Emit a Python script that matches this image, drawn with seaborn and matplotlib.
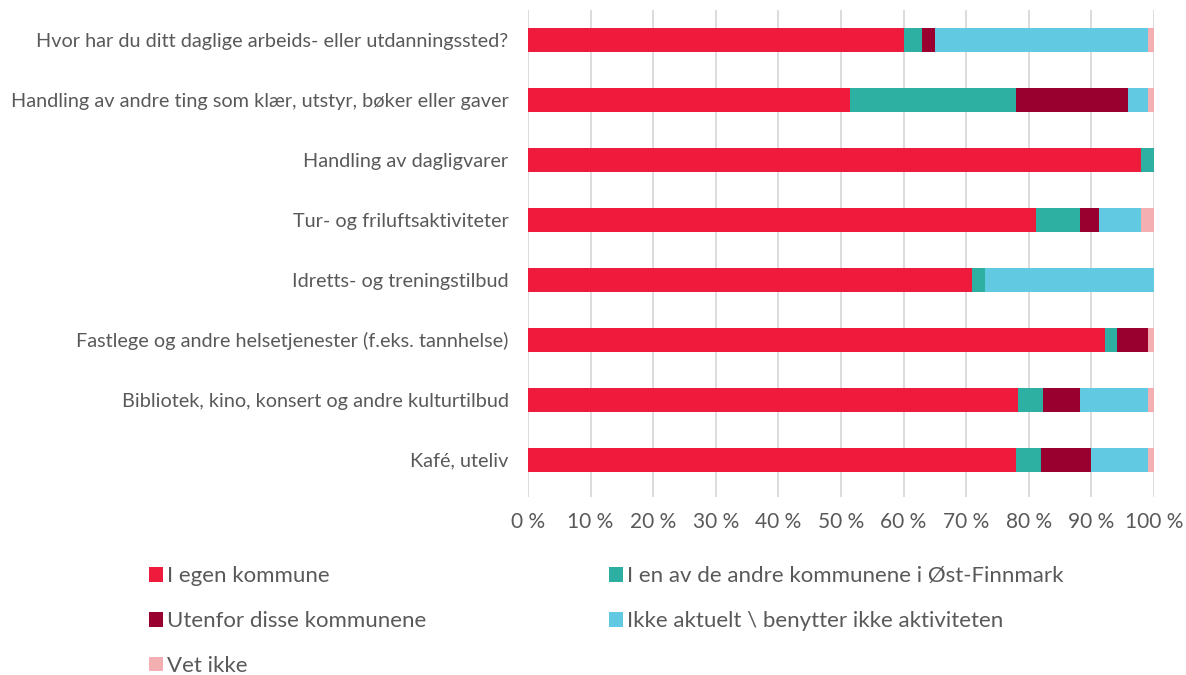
import matplotlib
matplotlib.use("Agg")
import matplotlib.pyplot as plt
import seaborn as sns
import numpy as np
import pandas as pd
from matplotlib.patches import Patch

categories = [
    "Hvor har du ditt daglige arbeids- eller utdanningssted?",
    "Handling av andre ting som klær, utstyr, bøker eller gaver",
    "Handling av dagligvarer",
    "Tur- og friluftsaktiviteter",
    "Idretts- og treningstilbud",
    "Fastlege og andre helsetjenester (f.eks. tannhelse)",
    "Bibliotek, kino, konsert og andre kulturtilbud",
    "Kafé, uteliv",
]
series_names = [
    "I egen kommune",
    "I en av de andre kommunene i Øst-Finnmark",
    "Utenfor disse kommunene",
    "Ikke aktuelt \\ benytter ikke aktiviteten",
    "Vet ikke",
]
egen = [60, 51.4, 98, 81.2, 71, 92.1, 78.3, 78]
annen = [3, 26.5, 2, 7, 2, 2, 4, 4]
utenfor = [2, 18, 0, 3, 0, 5, 5.9, 8]
ikke_aktuelt = [34, 3.1, 0, 6.8, 27, 0, 10.9, 9.1]
vet_ikke = [1, 1, 0, 2, 0, 0.9, 0.9, 0.9]
x_ticks = list(range(0, 101, 10))
x_ticklabels = [f"{v} %" for v in x_ticks]

colors = ["#EE1B3D", "#2DAFA2", "#990030", "#62C9E2", "#F4AFB2"]
text_color = "#595959"

sns.set_theme(style="white")
plt.rcParams["font.family"] = ["Lato", "DejaVu Sans"]

fig = plt.figure(figsize=(11.86, 6.75), dpi=100)
ax = fig.add_axes([528 / 1186, 1 - 497 / 675, (1154 - 528) / 1186, (497 - 10) / 675])

vals = np.array([egen, annen, utenfor, ikke_aktuelt, vet_ikke], dtype=float)
cum = np.cumsum(vals, axis=0)
for i in range(len(series_names) - 1, -1, -1):
    df = pd.DataFrame({"cat": categories, "val": cum[i]})
    sns.barplot(data=df, x="val", y="cat", orient="h", color=colors[i],
                width=0.4, ax=ax, saturation=1, linewidth=0, zorder=3)

ax.set_xlim(0, 100)
ax.set_ylim(7.62, -0.5)
ax.set_xticks(x_ticks)
ax.set_xticklabels(x_ticklabels)
ax.grid(axis="x", color="#D9D9D9", linewidth=1.3, zorder=0)
ax.grid(axis="y", visible=False)
ax.set_axisbelow(True)
for s in ax.spines.values():
    s.set_visible(False)
ax.set_xlabel("")
ax.set_ylabel("")
ax.tick_params(axis="x", length=0, pad=11, labelsize=15, labelcolor=text_color)
ax.tick_params(axis="y", length=0, pad=14, labelsize=14.3, labelcolor=text_color)

handles = [Patch(facecolor=c, edgecolor="none") for c in colors]
leg_kw = dict(frameon=False, fontsize=16, labelcolor=text_color,
              handlelength=0.65, handleheight=0.65, handletextpad=0.15,
              labelspacing=1.12, borderaxespad=0, borderpad=0)
leg1 = fig.legend([handles[0], handles[2], handles[4]],
                  [series_names[0], series_names[2], series_names[4]],
                  loc="upper left", bbox_to_anchor=(149 / 1186, 1 - 566 / 675), **leg_kw)
leg2 = fig.legend([handles[1], handles[3]],
                  [series_names[1], series_names[3]],
                  loc="upper left", bbox_to_anchor=(609 / 1186, 1 - 566 / 675), **leg_kw)

fig.savefig("out.png", dpi=100, facecolor="white")
